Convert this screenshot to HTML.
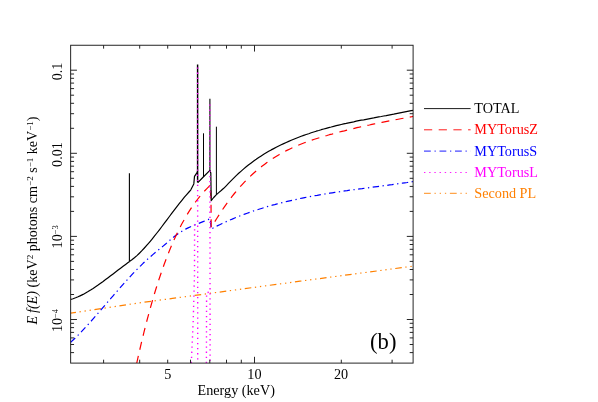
<!DOCTYPE html>
<html><head><meta charset="utf-8"><title>Spectrum plot (b)</title>
<style>
html,body{margin:0;padding:0;background:#fff;}
body{width:598px;height:402px;overflow:hidden;position:relative;font-family:"Liberation Serif",serif;}
svg text{font-family:"Liberation Serif",serif;}
</style></head><body>
<svg width="598" height="402" viewBox="0 0 598 402" style="position:absolute;left:0;top:0">
<rect width="598" height="402" fill="#fff"/>
<defs><clipPath id="c"><rect x="70.65" y="45.25" width="342.45000000000005" height="317.85"/></clipPath></defs>
<g><g clip-path="url(#c)" fill="none" stroke-linejoin="round">
<polyline points="70.6,313.2 132.7,303.8 172.5,298.4 300.0,281.2 413.3,266.1" stroke="#ff8000" stroke-width="1.2" stroke-dasharray="6.6 3.6 1.3 3.8 1.3 3.8 1.3 3.6" stroke-dashoffset="1.2"/>
<polyline points="70.6,342.4 73.1,340.0 75.6,337.6 78.1,335.1 80.6,332.5 83.1,329.9 85.6,327.2 88.1,324.5 90.6,321.7 93.1,318.9 95.6,316.1 98.1,313.2 100.6,310.3 103.1,307.4 105.6,304.5 108.1,301.6 110.6,298.7 113.1,295.8 115.6,292.9 118.1,290.1 120.6,287.2 123.1,284.4 125.6,281.6 128.1,278.8 130.6,276.1 133.1,273.4 135.6,270.8 138.1,268.3 140.6,265.8 143.1,263.3 145.6,261.0 148.1,258.7 150.6,256.5 153.1,254.4 155.6,252.3 158.1,250.2 160.6,248.2 163.1,246.1 165.6,244.0 168.1,241.8 170.6,239.6 173.1,237.5 175.6,235.5 178.1,233.7 180.6,232.0 183.1,230.5 185.6,229.1 188.1,227.9 190.6,226.7 193.1,225.6 195.6,224.6 198.1,223.6 200.6,222.6 203.1,221.6 205.6,220.6 208.1,219.6 210.4,218.6 211.2,229.2 212.2,228.5 214.7,227.2 217.2,225.9 219.7,224.7 222.2,223.5 224.7,222.4 227.2,221.2 229.7,220.1 232.2,219.1 234.7,218.0 237.2,217.0 239.7,216.0 242.2,215.0 244.7,214.1 247.2,213.2 249.7,212.3 252.2,211.4 254.7,210.6 257.2,209.8 259.7,209.0 262.2,208.2 264.7,207.4 267.2,206.7 269.7,206.0 272.2,205.2 274.7,204.6 277.2,203.9 279.7,203.3 282.2,202.6 284.7,202.0 287.2,201.4 289.7,200.8 292.2,200.3 294.7,199.7 297.2,199.2 299.7,198.6 302.2,198.1 304.7,197.6 307.2,197.1 309.7,196.6 312.2,196.2 314.7,195.7 317.2,195.3 319.7,194.8 322.2,194.4 324.7,194.0 327.2,193.6 329.7,193.2 332.2,192.8 334.7,192.4 337.2,192.0 339.7,191.7 342.2,191.3 344.7,190.9 347.2,190.6 349.7,190.2 352.2,189.9 354.7,189.6 357.2,189.2 359.7,188.9 362.2,188.6 364.7,188.2 367.2,187.9 369.7,187.6 372.2,187.2 374.7,186.9 377.2,186.6 379.7,186.3 382.2,185.9 384.7,185.6 387.2,185.3 389.7,184.9 392.2,184.6 394.7,184.2 397.2,183.9 399.7,183.5 402.2,183.2 404.7,182.8 407.2,182.5 409.7,182.1 412.2,181.7 413.3,181.5" stroke="#0000ff" stroke-width="1.2" stroke-dasharray="6.4 3.5 1.3 3.5"/>
<polyline points="136.6,363.8 139.1,352.6 141.6,341.9 144.1,331.7 146.6,321.8 149.1,312.5 151.6,303.5 154.1,294.9 156.6,286.8 159.1,279.0 161.6,271.6 164.1,264.5 166.6,257.8 169.1,251.5 171.6,245.4 174.1,239.7 176.6,234.3 179.1,229.2 181.6,224.3 184.1,219.8 186.6,215.4 189.1,211.4 191.6,207.5 194.1,203.9 196.6,200.5 199.1,197.3 201.6,194.3 204.1,191.5 206.6,188.8 209.1,186.3 210.6,184.9 211.0,200.7 211.2,227.0 211.9,226.5 214.4,222.3 216.9,218.2 219.4,214.3 221.9,210.5 224.4,206.8 226.9,203.3 229.4,199.9 231.9,196.6 234.4,193.5 236.9,190.5 239.4,187.6 241.9,184.8 244.4,182.1 246.9,179.6 249.4,177.1 251.9,174.8 254.4,172.5 256.9,170.3 259.4,168.3 261.9,166.3 264.4,164.4 266.9,162.5 269.4,160.8 271.9,159.1 274.4,157.5 276.9,156.0 279.4,154.5 281.9,153.1 284.4,151.7 286.9,150.4 289.4,149.2 291.9,148.0 294.4,146.9 296.9,145.8 299.4,144.7 301.9,143.7 304.4,142.8 306.9,141.9 309.4,141.0 311.9,140.1 314.4,139.3 316.9,138.5 319.4,137.7 321.9,136.9 324.4,136.2 326.9,135.5 329.4,134.7 331.9,134.1 334.4,133.4 336.9,132.7 339.4,132.0 341.9,131.4 344.4,130.8 346.9,130.1 349.4,129.5 351.9,128.9 354.4,128.3 356.9,127.7 359.4,127.2 361.9,126.6 364.4,126.1 366.9,125.5 369.4,125.0 371.9,124.4 374.4,123.9 376.9,123.4 379.4,122.9 381.9,122.4 384.4,121.9 386.9,121.4 389.4,120.9 391.9,120.4 394.4,119.9 396.9,119.5 399.4,119.0 401.9,118.5 404.4,118.1 406.9,117.6 409.4,117.1 411.9,116.7 413.3,116.4" stroke="#ff0000" stroke-width="1.2" stroke-dasharray="8.0 6.4"/>
<polyline points="70.6,299.5 73.1,298.7 75.6,297.8 78.1,296.8 80.6,295.6 83.1,294.4 85.6,293.0 88.1,291.6 90.6,290.1 93.1,288.5 95.6,286.8 98.1,285.1 100.6,283.3 103.1,281.5 105.6,279.6 108.1,277.7 110.6,275.8 113.1,273.9 115.6,272.0 118.1,270.1 120.6,268.2 123.1,266.3 125.6,264.4 128.1,262.6 129.4,261.7" stroke="#000" stroke-width="1.2"/>
<polyline points="129.4,261.5 131.9,259.7 134.4,257.7 136.9,255.6 139.4,253.2 141.9,250.7 144.4,248.0 146.9,245.2 149.4,242.3 151.9,239.3 154.4,236.2 156.9,233.0 159.4,229.8 161.9,226.5 164.4,223.2 166.9,219.8 169.4,216.5 171.9,213.2 174.4,209.9 176.9,206.6 179.4,203.4 181.9,200.3 184.4,197.2 186.9,194.3 189.4,191.5 190.7,190.1 193.8,183.9 194.5,176.4 197.0,172.6 197.5,171.5" stroke="#000" stroke-width="1.2"/>
<polyline points="197.8,182.6 203.3,177.0 208.9,171.4 209.9,170.5 210.8,173.0 211.2,200.7 213.7,197.5 216.2,194.9 218.7,192.6 221.2,190.5 223.7,188.3 226.2,185.8 228.7,183.2 231.2,180.6 233.7,178.1 236.2,175.6 238.7,173.3 241.2,171.1 243.7,168.9 246.2,166.8 248.7,164.8 251.2,162.9 253.7,161.0 256.2,159.3 258.7,157.5 261.2,155.9 263.7,154.3 266.2,152.8 268.7,151.3 271.2,149.9 273.7,148.6 276.2,147.3 278.7,146.0 281.2,144.8 283.7,143.6 286.2,142.5 288.7,141.4 291.2,140.3 293.7,139.3 296.2,138.3 298.7,137.3 301.2,136.3 303.7,135.4 306.2,134.5 308.7,133.7 311.2,132.8 313.7,132.0 316.2,131.2 318.7,130.5 321.2,129.7 323.7,129.0 326.2,128.3 328.7,127.6 331.2,127.0 333.7,126.3 336.2,125.7 338.7,125.1 341.2,124.5 343.7,123.9 346.2,123.4 348.7,122.8 351.2,122.3 353.7,121.8 356.2,121.2 358.7,120.7 361.2,120.2 363.7,119.8 366.2,119.3 368.7,118.8 371.2,118.3 373.7,117.9 376.2,117.4 378.7,116.9 381.2,116.5 383.7,116.0 386.2,115.6 388.7,115.1 391.2,114.6 393.7,114.2 396.2,113.7 398.7,113.2 401.2,112.7 403.7,112.2 406.2,111.7 408.7,111.2 411.2,110.7 413.3,110.3" stroke="#000" stroke-width="1.2"/>
<line x1="129.4" y1="173.2" x2="129.4" y2="261.7" stroke="#000" stroke-width="1.1"/>
<line x1="197.6" y1="64.4" x2="197.6" y2="182.6" stroke="#000" stroke-width="1.45"/>
<line x1="203.5" y1="133.3" x2="203.5" y2="177" stroke="#000" stroke-width="1.0"/>
<line x1="209.9" y1="98.7" x2="209.9" y2="171" stroke="#000" stroke-width="1.1"/>
<line x1="216.4" y1="126.7" x2="216.4" y2="194.4" stroke="#000" stroke-width="1.0"/>
<polyline points="191.3,363.1 193.2,321.4 194.5,275.0 194.6,224.0 197.4,223.5" stroke="#ff00ff" stroke-width="1.4" stroke-dasharray="1.3 3.8"/>
<polyline points="197.6,67.5 197.7,363.1" stroke="#ff00ff" stroke-width="1.4" stroke-dasharray="1.3 3.8"/>
<polyline points="206.4,363.1 206.6,292.6 209.7,292.2" stroke="#ff00ff" stroke-width="1.4" stroke-dasharray="1.3 3.8"/>
<polyline points="209.9,104.5 210.1,363.1" stroke="#ff00ff" stroke-width="1.4" stroke-dasharray="1.3 3.8"/>
</g>
<g stroke="#1a1a1a" stroke-width="0.95" fill="none">
<rect x="70.65" y="45.25" width="342.45000000000005" height="317.85"/>
<path d="M103.6 363.1v-3.4M103.6 45.25v3.4"/>
<path d="M139.7 363.1v-3.4M139.7 45.25v3.4"/>
<path d="M167.7 363.1v-3.4M167.7 45.25v3.4"/>
<path d="M190.5 363.1v-3.4M190.5 45.25v3.4"/>
<path d="M209.8 363.1v-3.4M209.8 45.25v3.4"/>
<path d="M226.5 363.1v-3.4M226.5 45.25v3.4"/>
<path d="M241.3 363.1v-3.4M241.3 45.25v3.4"/>
<path d="M254.5 363.1v-6.3M254.5 45.25v6.3"/>
<path d="M341.3 363.1v-3.4M341.3 45.25v3.4"/>
<path d="M392.1 363.1v-3.4M392.1 45.25v3.4"/>
<path d="M70.65 352.6h3.4M413.1 352.6h-3.4"/>
<path d="M70.65 344.5h3.4M413.1 344.5h-3.4"/>
<path d="M70.65 337.9h3.4M413.1 337.9h-3.4"/>
<path d="M70.65 332.4h3.4M413.1 332.4h-3.4"/>
<path d="M70.65 327.6h3.4M413.1 327.6h-3.4"/>
<path d="M70.65 323.3h3.4M413.1 323.3h-3.4"/>
<path d="M70.65 319.5h6.3M413.1 319.5h-6.3"/>
<path d="M70.65 294.5h3.4M413.1 294.5h-3.4"/>
<path d="M70.65 279.9h3.4M413.1 279.9h-3.4"/>
<path d="M70.65 269.5h3.4M413.1 269.5h-3.4"/>
<path d="M70.65 261.4h3.4M413.1 261.4h-3.4"/>
<path d="M70.65 254.8h3.4M413.1 254.8h-3.4"/>
<path d="M70.65 249.3h3.4M413.1 249.3h-3.4"/>
<path d="M70.65 244.5h3.4M413.1 244.5h-3.4"/>
<path d="M70.65 240.2h3.4M413.1 240.2h-3.4"/>
<path d="M70.65 236.4h6.3M413.1 236.4h-6.3"/>
<path d="M70.65 211.4h3.4M413.1 211.4h-3.4"/>
<path d="M70.65 196.8h3.4M413.1 196.8h-3.4"/>
<path d="M70.65 186.4h3.4M413.1 186.4h-3.4"/>
<path d="M70.65 178.3h3.4M413.1 178.3h-3.4"/>
<path d="M70.65 171.7h3.4M413.1 171.7h-3.4"/>
<path d="M70.65 166.2h3.4M413.1 166.2h-3.4"/>
<path d="M70.65 161.4h3.4M413.1 161.4h-3.4"/>
<path d="M70.65 157.1h3.4M413.1 157.1h-3.4"/>
<path d="M70.65 153.3h6.3M413.1 153.3h-6.3"/>
<path d="M70.65 128.3h3.4M413.1 128.3h-3.4"/>
<path d="M70.65 113.7h3.4M413.1 113.7h-3.4"/>
<path d="M70.65 103.3h3.4M413.1 103.3h-3.4"/>
<path d="M70.65 95.2h3.4M413.1 95.2h-3.4"/>
<path d="M70.65 88.6h3.4M413.1 88.6h-3.4"/>
<path d="M70.65 83.1h3.4M413.1 83.1h-3.4"/>
<path d="M70.65 78.3h3.4M413.1 78.3h-3.4"/>
<path d="M70.65 74.0h3.4M413.1 74.0h-3.4"/>
<path d="M70.65 70.2h6.3M413.1 70.2h-6.3"/>
</g>
<line x1="424" y1="108.6" x2="470.6" y2="108.6" stroke="#000" stroke-width="0.9"/>
<line x1="424" y1="129.8" x2="470.6" y2="129.8" stroke="#ff0000" stroke-width="0.9" stroke-dasharray="8.2 6.5"/>
<line x1="424" y1="151.1" x2="470.6" y2="151.1" stroke="#0000ff" stroke-width="0.9" stroke-dasharray="6.8 3.7 1.3 3.7"/>
<line x1="424" y1="172.5" x2="470.6" y2="172.5" stroke="#ff00ff" stroke-width="0.9" stroke-dasharray="1.4 3.78"/>
<line x1="424" y1="193.3" x2="470.6" y2="193.3" stroke="#ff8000" stroke-width="0.9" stroke-dasharray="6.8 3.7 1.3 3.9 1.3 3.9 1.3 3.7"/>
</g>
<g style="opacity:0.999">
<text x="474.3" y="113.0" fill="#000" font-size="14.2">TOTAL</text>
<text x="474.3" y="134.2" fill="#ff0000" font-size="14.2">MYTorusZ</text>
<text x="474.3" y="155.5" fill="#0000ff" font-size="14.2">MYTorusS</text>
<text x="474.3" y="176.9" fill="#ff00ff" font-size="14.2">MYTorusL</text>
<text x="474.3" y="197.7" fill="#ff8000" font-size="14.2">Second PL</text>
<text x="167.7" y="378.6" font-size="14.2" text-anchor="middle">5</text>
<text x="254.4" y="378.6" font-size="14.2" text-anchor="middle">10</text>
<text x="341.1" y="378.6" font-size="14.2" text-anchor="middle">20</text>
<text x="236.2" y="395.1" font-size="14.2" text-anchor="middle">Energy (keV)</text>
<text transform="translate(61.8,71.5) rotate(-90)" font-size="14.2" text-anchor="middle">0.1</text>
<text transform="translate(61.8,154.5) rotate(-90)" font-size="14.2" text-anchor="middle">0.01</text>
<text transform="translate(61.8,236.8) rotate(-90)" font-size="14.2" text-anchor="middle">10<tspan font-size="8.5" dy="-4.3">−3</tspan></text>
<text transform="translate(61.8,320.5) rotate(-90)" font-size="14.2" text-anchor="middle">10<tspan font-size="8.5" dy="-4.3">−4</tspan></text>
<text transform="translate(37.0,324.4) rotate(-90)" font-size="14.1" text-anchor="start"><tspan font-style="italic">E&#8201;f(E)</tspan> (keV<tspan font-size="9" dy="-4.5">2</tspan><tspan dy="4.5"> photons cm</tspan><tspan font-size="9" dy="-4.5">−2</tspan><tspan dy="4.5"> s</tspan><tspan font-size="9" dy="-4.5">−1</tspan><tspan dy="4.5"> keV</tspan><tspan font-size="9" dy="-4.5">−1</tspan><tspan dy="4.5">)</tspan></text>
<text x="370.1" y="348.6" font-size="22.6">(b)</text>
</g>
</svg>
</body></html>
